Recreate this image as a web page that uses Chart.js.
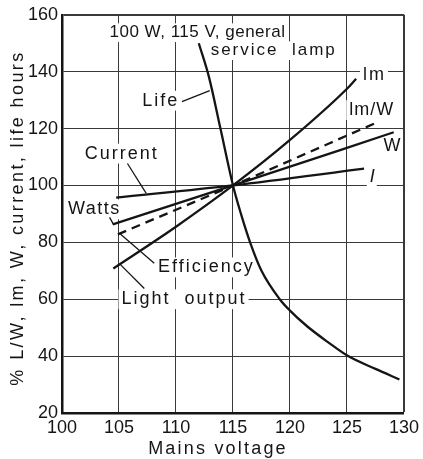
<!DOCTYPE html>
<html>
<head>
<meta charset="utf-8">
<script src="https://cdn.jsdelivr.net/npm/chart.js@4.4.1/dist/chart.umd.min.js"></script>
<style>
    html, body { margin: 0; padding: 0; background: #fff; }
    #wrap { width: 423px; height: 459px; }
</style>
</head>
<body>
<div id="wrap"><canvas id="lampChart"></canvas></div>
<script>
// Values (mains voltage vs % of rated value)
const lifeVolts = [112.0, 112.9, 113.9, 115, 115.7, 116.5, 117.5, 119.1, 120, 121.5, 123.3, 125.1, 127.5, 129.6];
const lifeValues = [150, 138, 120, 100, 90, 80, 70, 60, 56, 50.5, 45, 40, 35.5, 31.8];

const lumenVolts = [104.5, 110, 115, 120, 125, 125.8];
const lumenValues = [70.8, 85.5, 100, 116, 134, 137.5];

const effVolts = [104.9, 115, 127.65];
const effValues = [82.8, 100, 122.2];

const wattVolts = [104.45, 115, 129.1];
const wattValues = [86.3, 100, 118.7];

const currentVolts = [104.75, 115, 126.5];
const currentValues = [95.7, 100, 105.9];

const voltTicks = [100, 105, 110, 115, 120, 125, 130];
const percentTicks = [20, 40, 60, 80, 100, 120, 140, 160];

const INK = '#151515';
const FONT = '"Liberation Sans", Arial, sans-serif';

const toPoints = (xs, ys) => xs.map((x, i) => ({ x: x, y: ys[i] }));

// Labels and leader lines, placed in chart units (volts, %)
const notes = [
    { text: '100 W, 115 V, general', x: 104.17, y: 153.7, size: 17, spacing: 0.5 },
    { text: 'service  lamp', x: 113.04, y: 147.4, size: 17, spacing: 2 },
    { text: 'Life', x: 107.04, y: 129.8, size: 18, spacing: 2 },
    { text: 'Current', x: 102.0, y: 111.2, size: 18, spacing: 2 },
    { text: 'Watts', x: 100.52, y: 91.6, size: 18, spacing: 1.5 },
    { text: 'Efficiency', x: 108.43, y: 71.2, size: 18, spacing: 2 },
    { text: 'Light  output', x: 105.22, y: 60, size: 18, spacing: 2 },
    { text: 'lm', x: 126.4, y: 138.8, size: 18, spacing: 2 },
    { text: 'lm/W', x: 125.2, y: 126.5, size: 18, spacing: 1 },
    { text: 'W', x: 128.2, y: 114, size: 18, spacing: 0 },
    { text: 'I', x: 127.0, y: 102.8, size: 18, spacing: 0, italic: true }
];

const leaders = [
    [110.52, 129.47, 112.96, 133.33],
    [105.74, 107.72, 107.39, 97.19],
    [104.17, 88.77, 104.52, 86.3],
    [105.04, 83.16, 108.09, 72.63],
    [105.04, 72.53, 107.22, 63.75]
];

const notesPlugin = {
    id: 'notes',
    beforeDatasetsDraw(chart) {
        const { ctx, scales: { x, y } } = chart;
        ctx.save();
        ctx.textBaseline = 'middle';
        ctx.textAlign = 'left';
        notes.forEach(n => {
            ctx.font = (n.italic ? 'italic ' : '') + n.size + 'px ' + FONT;
            ctx.letterSpacing = n.spacing + 'px';
            const px = x.getPixelForValue(n.x);
            const py = y.getPixelForValue(n.y);
            const w = ctx.measureText(n.text).width;
            ctx.fillStyle = '#fff';
            ctx.fillRect(px - 3, py - n.size * 0.55, w + 5, n.size * 1.1);
            ctx.fillStyle = INK;
            ctx.fillText(n.text, px, py);
        });
        ctx.letterSpacing = '0px';
        ctx.strokeStyle = INK;
        ctx.lineWidth = 1.3;
        leaders.forEach(l => {
            ctx.beginPath();
            ctx.moveTo(x.getPixelForValue(l[0]), y.getPixelForValue(l[1]));
            ctx.lineTo(x.getPixelForValue(l[2]), y.getPixelForValue(l[3]));
            ctx.stroke();
        });
        ctx.restore();
    },
    afterDraw(chart) {
        const { ctx, chartArea } = chart;
        ctx.save();
        ctx.fillStyle = INK;
        ctx.font = '18px ' + FONT;
        ctx.letterSpacing = '2.2px';
        ctx.textAlign = 'center';
        ctx.textBaseline = 'middle';
        ctx.fillText('Mains voltage', chartArea.left + 156, 449);
        ctx.translate(18, 218);
        ctx.rotate(-Math.PI / 2);
        ctx.letterSpacing = '2.4px';
        ctx.fillText('% L/W, lm, W, current, life hours', 0, 0);
        ctx.restore();
    }
};

const lineSet = (data, dash) => ({
    data: data,
    showLine: true,
    borderColor: INK,
    borderWidth: 2.3,
    borderDash: dash || [],
    pointRadius: 0,
    fill: false,
    cubicInterpolationMode: 'monotone'
});

const edgeWidth = max => c => (c.tick && c.tick.value === max ? 2 : 1);

new Chart(document.getElementById('lampChart'), {
    type: 'scatter',
    data: {
        datasets: [
            lineSet(toPoints(lifeVolts, lifeValues)),
            lineSet(toPoints(lumenVolts, lumenValues)),
            lineSet(toPoints(effVolts, effValues), [9, 6]),
            lineSet(toPoints(wattVolts, wattValues)),
            lineSet(toPoints(currentVolts, currentValues))
        ]
    },
    options: {
        responsive: true,
        maintainAspectRatio: false,
        animation: false,
        layout: { padding: { top: 14, right: 16, left: 0, bottom: 0 } },
        plugins: {
            legend: { display: false },
            tooltip: { enabled: false }
        },
        scales: {
            x: {
                type: 'linear',
                min: voltTicks[0],
                max: voltTicks[voltTicks.length - 1],
                afterBuildTicks: s => { s.ticks = voltTicks.map(v => ({ value: v })); },
                afterFit: s => { s.height = 46; },
                ticks: { color: INK, font: { family: FONT, size: 18 }, padding: 4 },
                grid: { color: '#3a3a3a', lineWidth: edgeWidth(130), drawTicks: false },
                border: { display: true, color: INK, width: 2.5 }
            },
            y: {
                min: percentTicks[0],
                max: percentTicks[percentTicks.length - 1],
                afterBuildTicks: s => { s.ticks = percentTicks.map(v => ({ value: v })); },
                afterFit: s => { s.width = 62; },
                ticks: { color: INK, font: { family: FONT, size: 18 }, padding: 4 },
                grid: { color: '#3a3a3a', lineWidth: edgeWidth(160), drawTicks: false },
                border: { display: true, color: INK, width: 2.5 }
            }
        }
    },
    plugins: [notesPlugin]
});
</script>
</body>
</html>
